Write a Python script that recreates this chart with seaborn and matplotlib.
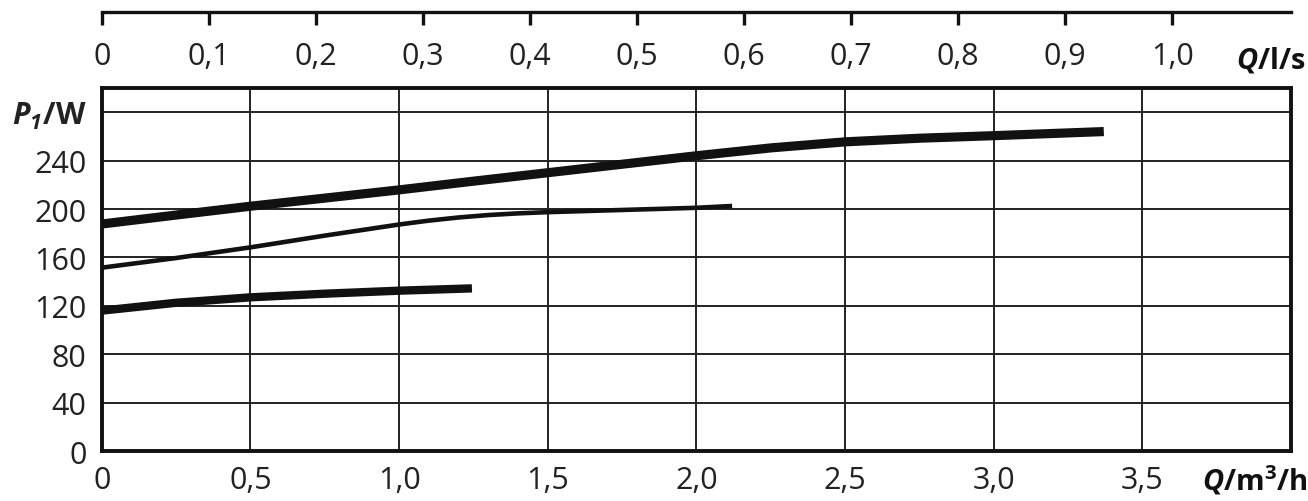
import seaborn as sns
import matplotlib.pyplot as plt
import pandas as pd

# flow Q in m3/h and power P1 in W
q_high = [0, 0.25, 0.5, 0.75, 1.0, 1.25, 1.5, 1.75, 2.0, 2.25, 2.5, 2.75, 3.0, 3.37]
p_high = [187.6, 195, 202.3, 209, 215.8, 223, 230, 237, 244, 250.5, 255.5, 258.5, 260.6, 264]

q_mid = [0, 0.25, 0.5, 0.75, 1.0, 1.1, 1.2, 1.3, 1.4, 1.5, 1.75, 2.0, 2.12]
p_mid = [151.5, 159.5, 168.3, 178, 187.2, 190.4, 193, 195, 196.4, 197.4, 199.2, 201, 202.5]

q_low = [0, 0.25, 0.5, 0.75, 1.0, 1.245]
p_low = [116, 122.5, 127, 130, 132.5, 134.4]

y_ticks = [0, 40, 80, 120, 160, 200, 240, 280]
x_ticks = [0, 0.5, 1.0, 1.5, 2.0, 2.5, 3.0, 3.5]
top_ticks = [0, 0.1, 0.2, 0.3, 0.4, 0.5, 0.6, 0.7, 0.8, 0.9, 1.0]


def main():
    sns.set_style("white")
    plt.rcParams['font.family'] = ['Open Sans', 'DejaVu Sans']
    plt.rcParams['mathtext.fontset'] = 'custom'
    plt.rcParams['mathtext.rm'] = 'Open Sans'
    plt.rcParams['mathtext.bf'] = 'Open Sans:bold'
    plt.rcParams['mathtext.it'] = 'Open Sans:italic'
    plt.rcParams['mathtext.bfit'] = 'Open Sans:italic:bold'

    fig = plt.figure(figsize=(13.08, 5.02), dpi=100)
    ax = fig.add_axes([0.0778, 0.0996, 0.9093, 0.7231])

    df = pd.concat([
        pd.DataFrame({"Q": q_high, "P": p_high, "curve": "high"}),
        pd.DataFrame({"Q": q_mid, "P": p_mid, "curve": "mid"}),
        pd.DataFrame({"Q": q_low, "P": p_low, "curve": "low"}),
    ])
    widths = {"high": 6.6, "mid": 3.3, "low": 6.0}
    for name, sub in df.groupby("curve"):
        sns.lineplot(data=sub, x="Q", y="P", ax=ax, color="#111111",
                     linewidth=widths[name], solid_capstyle="butt",
                     sort=False, zorder=3)

    ax.set_xlim(0, 4.0)
    ax.set_ylim(0, 300)
    ax.set_xticks(x_ticks)
    ax.set_xticklabels([f"{v:.1f}".replace(".", ",") if v else "0" for v in x_ticks])
    ax.set_yticks(y_ticks)
    ylabels = [str(v) for v in y_ticks[:-1]] + [r"$\mathbfit{P}_{\mathbfit{1}}\mathbf{/W}$"]
    ax.set_yticklabels(ylabels)
    ax.set_xlabel("")
    ax.set_ylabel("")
    ax.grid(True, color="#222222", linewidth=1.4)
    ax.tick_params(axis="both", length=0, labelsize=22, colors="#222222")
    ax.tick_params(axis="x", pad=10)
    ax.tick_params(axis="y", pad=11)
    for s in ax.spines.values():
        s.set_linewidth(2.8)
        s.set_color("#111111")
    ax.text(1.014, -0.107, r"$\mathbfit{Q}\mathbf{/m^3/h}$", transform=ax.transAxes,
            ha="right", va="baseline", fontsize=21, color="#111111")

    # top scale in l/s
    top = fig.add_axes([0.0778, 0.975, 0.9093, 0.001])
    top.set_xlim(0, 4.0 / 3.6)
    top.set_ylim(0, 1)
    top.set_yticks([])
    top.set_xticks(top_ticks)
    top.set_xticklabels([f"{v:.1f}".replace(".", ",") if v else "0" for v in top_ticks])
    for k in ["top", "left", "right"]:
        top.spines[k].set_visible(False)
    top.spines["bottom"].set_linewidth(2.4)
    top.spines["bottom"].set_color("#111111")
    top.tick_params(axis="x", bottom=True, direction="out", length=9.5, width=2.4,
                    pad=12, labelsize=22, colors="#111111", labelcolor="#222222")
    top.patch.set_visible(False)
    fig.text(0.998, 0.8645, r"$\mathbfit{Q}\mathbf{/l/s}$", ha="right", va="baseline",
             fontsize=21, color="#111111")

    fig.savefig("out.png", dpi=100)


if __name__ == '__main__':
    main()
